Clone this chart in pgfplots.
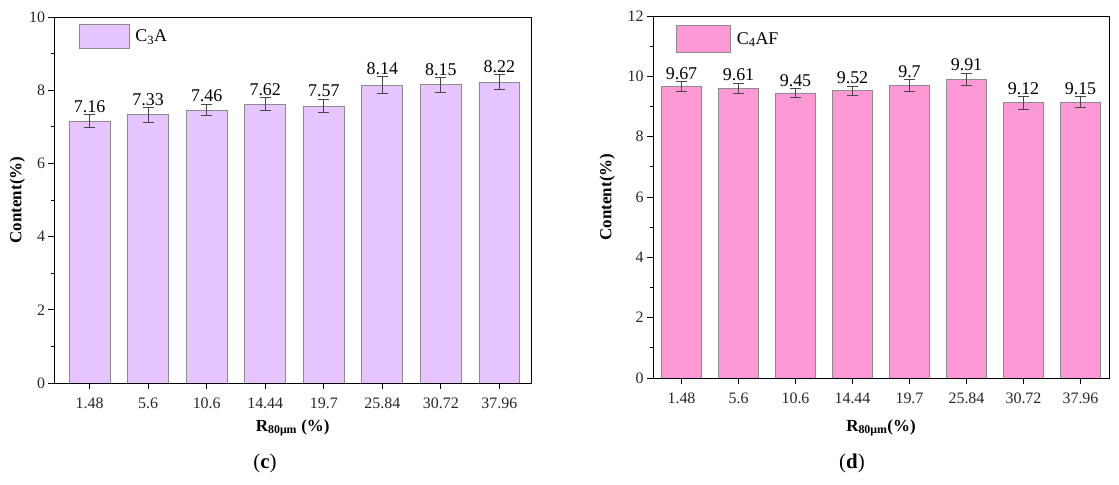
\documentclass[border=0pt]{standalone}
\usepackage{fontspec}
\setmainfont{Liberation Serif}
\usepackage{pgfplots}
\usepackage{pgfplotstable}
\pgfplotsset{compat=1.18}

\definecolor{lav}{RGB}{229,196,255}
\definecolor{pnk}{RGB}{255,153,214}
\definecolor{edge}{RGB}{140,140,140}
\definecolor{errc}{RGB}{70,70,70}

% C3A content with standard deviation
\pgfplotstableread{
x y err
0 7.16 0.17
1 7.33 0.20
2 7.46 0.16
3 7.62 0.18
4 7.57 0.19
5 8.14 0.24
6 8.15 0.20
7 8.22 0.20
}\dataCA

% C4AF content with standard deviation
\pgfplotstableread{
x y err
0 9.67 0.17
1 9.61 0.17
2 9.45 0.15
3 9.52 0.16
4 9.7 0.19
5 9.91 0.20
6 9.12 0.21
7 9.15 0.19
}\dataCAF

\pgfplotsset{
  panel/.style={
    scale only axis,
    ybar, bar width=0.7,
    ymin=0,
    xtick={0,...,7},
    xticklabels={1.48,5.6,10.6,14.44,19.7,25.84,30.72,37.96},
    tick align=outside, xtick pos=bottom, ytick pos=left,
    major tick length=6bp, minor tick length=3.5bp,
    minor y tick num=1,
    axis line style={line width=0.9pt},
    every tick/.style={black, line width=0.8pt},
    tick label style={font=\fontsize{16}{18}\selectfont, text=black!85},
    x tick label style={yshift=-5bp},
    /pgf/number format/assume math mode=true,
    nodes near coords, point meta=explicit symbolic,
    every node near coord/.append style={font=\fontsize{18}{20}\selectfont, inner sep=1.5bp, anchor=south, text=black},
    legend style={draw=none, fill=none, font=\fontsize{18}{20}\selectfont, inner sep=0pt, anchor=north west, column sep=4bp},
    error bars/error bar style={errc, line width=0.8pt},
    error bars/error mark options={errc, rotate=90, mark size=5.5bp, line width=0.8pt},
  }
}

\begin{document}
\begin{tikzpicture}
\useasboundingbox (0,0) rectangle (1119bp,485bp);

\begin{axis}[panel,
  at={(54.5bp,102bp)}, anchor=south west,
  width=476.5bp, height=366bp,
  xmin=-0.6, xmax=7.54, ymax=10,
  ytick={0,2,...,10},
  xlabel={R\textsubscript{80μm} (\%)},
  ylabel={Content(\%)},
  xlabel style={at={(axis description cs:0.5,-0.123)}, anchor=center, font=\bfseries\fontsize{17}{20}\selectfont},
  ylabel style={at={(axis description cs:-0.078,0.5)}, anchor=center, font=\bfseries\fontsize{17}{20}\selectfont},
  legend style={at={(axis description cs:0.05,0.981)}},
  legend image code/.code={\draw[#1] (0bp,-12bp) rectangle (50bp,12bp);},
]
\addplot[fill=lav, draw=edge, line width=0.8pt,
  visualization depends on={\thisrow{err} \as \err},
  every node near coord/.append style={yshift=\err*36.7},
  error bars/.cd, y dir=both, y explicit]
  table[x=x, y=y, y error=err, meta=y] {\dataCA};
\addlegendentry{C\textsubscript{3}A}
\end{axis}

\begin{axis}[panel,
  at={(653bp,107bp)}, anchor=south west,
  width=456bp, height=362bp,
  xmin=-0.5, xmax=7.5, ymax=12,
  ytick={0,2,...,12},
  xlabel={R\textsubscript{80μm}(\%)},
  ylabel={Content(\%)},
  xlabel style={at={(axis description cs:0.5,-0.138)}, anchor=center, font=\bfseries\fontsize{17}{20}\selectfont},
  ylabel style={at={(axis description cs:-0.1,0.5)}, anchor=center, font=\bfseries\fontsize{17}{20}\selectfont},
  legend style={at={(axis description cs:0.05,0.975)}},
  legend image code/.code={\draw[#1] (0bp,-13.5bp) rectangle (54bp,13.5bp);},
]
\addplot[fill=pnk, draw=edge, line width=0.8pt,
  visualization depends on={\thisrow{err} \as \err},
  every node near coord/.append style={yshift=\err*30.2},
  error bars/.cd, y dir=both, y explicit]
  table[x=x, y=y, y error=err, meta=y] {\dataCAF};
\addlegendentry{C\textsubscript{4}AF}
\end{axis}

\node[font=\fontsize{21}{24}\selectfont] at (265bp,22bp) {(\textbf{c})};
\node[font=\fontsize{21}{24}\selectfont] at (852bp,22bp) {(\textbf{d})};
\end{tikzpicture}
\end{document}
